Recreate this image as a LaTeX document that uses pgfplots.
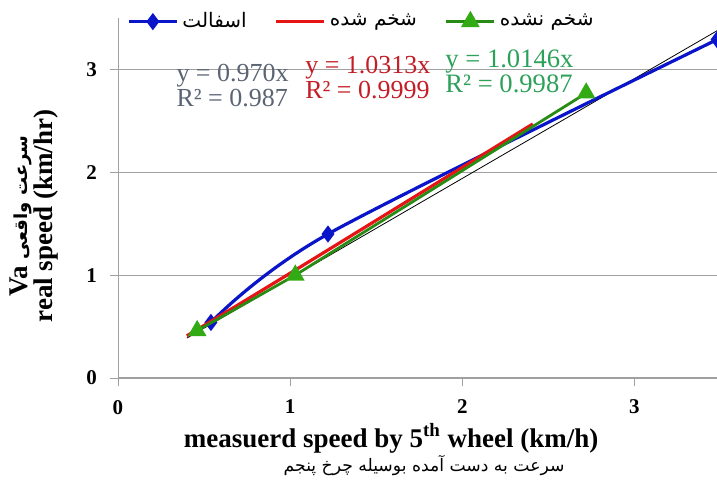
\documentclass[border=0pt]{standalone}
\usepackage{pgfplots}
\pgfplotsset{compat=1.18}
\usepackage{fontspec}
\setmainfont{Liberation Serif}
\newfontfamily\arabicfont[Script=Arabic]{DejaVu Sans}
\TeXXeTstate=1

\definecolor{serblue}{RGB}{10,20,200}
\definecolor{serred}{RGB}{230,20,20}
\definecolor{sergreen}{RGB}{40,140,20}
\definecolor{trigreen}{RGB}{50,170,20}
\definecolor{txtgray}{RGB}{90,100,115}
\definecolor{txtred}{RGB}{195,30,40}
\definecolor{txtgreen}{RGB}{45,160,90}
\definecolor{gridgray}{RGB}{160,160,160}

\begin{document}
\begin{tikzpicture}
\begin{axis}[
    scale only axis,
    width=299.5pt, height=180pt,
    xmin=0, xmax=3.48,
    ymin=0, ymax=3.5,
    xtick={0,1,2,3},
    ytick={0,1,2,3},
    axis lines=left,
    axis line style={gridgray, -},
    tick style={gridgray},
    tick align=outside,
    major tick length=4pt,
    ymajorgrids,
    grid style={gridgray, line width=0.6pt},
    ticklabel style={font=\bfseries\fontsize{10.5}{12}\selectfont},
    xticklabel style={yshift=-3.5pt},
    yticklabel style={xshift=-3pt},
    /pgf/number format/assume math mode=true,
    legend columns=3,
    legend style={draw=none, fill=none, at={(rel axis cs:0.408,0.99)}, anchor=center,
        font=\arabicfont\fontsize{10}{11}\selectfont,
        /tikz/every even column/.append style={column sep=12pt}},
    legend image code/.code={
        \draw[#1] (0pt,0pt) -- (12pt,0pt) -- (24pt,0pt);
        \draw[#1, only marks] plot coordinates {(12pt,0pt)};
    },
    clip mode=individual,
]
% trend line y = 0.970x
\addplot[black, line width=0.4pt, forget plot] coordinates {(0.40,0.388) (3.48,3.376)};

\addplot[serblue, line width=1.6pt, smooth, mark=diamond*, mark size=3pt,
    mark options={fill=serblue}] coordinates {
    (0.54,0.54) (1.22,1.40) (3.48,3.29)
};
\addlegendentry{\beginR اسفالت\endR}

\addplot[serred, line width=1.6pt, smooth] coordinates {
    (0.40,0.41) (1.05,1.07) (2.41,2.47)
};
\addlegendentry{\beginR شخم شده\endR}

\addplot[sergreen, line width=1.4pt, mark=triangle*, mark size=4pt,
    mark options={fill=trigreen, draw=trigreen}] coordinates {
    (0.46,0.46) (1.03,1.00) (2.72,2.77)
};
\addlegendentry{\beginR شخم نشده\endR}

% trend line equations
\node[anchor=north west, align=left, text=txtgray, font=\fontsize{13}{12.5}\selectfont, inner sep=0pt]
    at (rel axis cs:0.097,0.872) {y = 0.970x\\R² = 0.987};
\node[anchor=north west, align=left, text=txtred, font=\fontsize{13}{12.5}\selectfont, inner sep=0pt]
    at (rel axis cs:0.312,0.895) {y = 1.0313x\\R² = 0.9999};
\node[anchor=north west, align=left, text=txtgreen, font=\fontsize{13.3}{12.5}\selectfont, inner sep=0pt]
    at (rel axis cs:0.546,0.914) {y = 1.0146x\\R² = 0.9987};

% axis labels
\node[rotate=90, align=center, font=\bfseries\fontsize{13.5}{11.5}\selectfont]
    at (rel axis cs:-0.14,0.45) {Va {\arabicfont\fontsize{9}{11.5}\selectfont\beginR سرعت واقعی\endR}\\real speed (km/hr)};
\node[font=\bfseries\fontsize{13.5}{12}\selectfont]
    at (rel axis cs:0.456,-0.167) {measuerd speed by 5\textsuperscript{th} wheel (km/h)};
\node[font=\arabicfont\fontsize{8.6}{11}\selectfont]
    at (rel axis cs:0.511,-0.242) {\beginR سرعت به دست آمده بوسیله چرخ پنجم\endR};
\end{axis}
\pgfresetboundingbox
\path[use as bounding box] (-59pt,-50.5pt) rectangle (299.5pt,189pt);
\end{tikzpicture}
\end{document}
